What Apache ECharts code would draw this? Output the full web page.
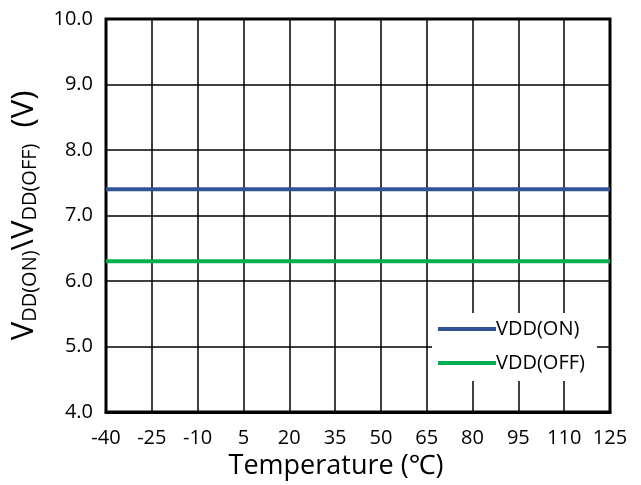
<!DOCTYPE html>
<html>
<head>
<meta charset="utf-8">
<script src="https://cdn.jsdelivr.net/npm/echarts@6/dist/echarts.min.js"></script>
<style>
  html, body { margin: 0; padding: 0; background: #fff; }
  #container { width: 641px; height: 485px; }
</style>
</head>
<body>
<div id="container"></div>
<script>
// 温度 (℃)
var temps = ['-40', '-25', '-10', '5', '20', '35', '50', '65', '80', '95', '110', '125'];
var vddOn = [7.4, 7.4, 7.4, 7.4, 7.4, 7.4, 7.4, 7.4, 7.4, 7.4, 7.4, 7.4];
var vddOff = [6.3, 6.3, 6.3, 6.3, 6.3, 6.3, 6.3, 6.3, 6.3, 6.3, 6.3, 6.3];

var font = '"Open Sans", "Noto Sans", sans-serif';

var myChart = echarts.init(document.getElementById('container'));
myChart.setOption({
    animation: false,
    textStyle: { fontFamily: font },
    grid: {
        left: 106, right: 31, top: 19, bottom: 73,
        outerBoundsMode: 'none',
        show: true, borderColor: '#000', borderWidth: 3, backgroundColor: 'transparent'
    },
    legend: {
        left: 432, top: 313,
        orient: 'vertical',
        backgroundColor: '#fff',
        padding: [6, 12, 8, 6],
        itemWidth: 58, itemHeight: 4, itemGap: 14,
        icon: 'rect',
        textStyle: { fontSize: 20, color: '#000', fontFamily: font, padding: [0, 0, 0, -5] },
        data: ['VDD(ON)', 'VDD(OFF)']
    },
    xAxis: {
        type: 'category',
        boundaryGap: false,
        data: temps,
        name: 'Temperature (℃)',
        nameLocation: 'middle',
        nameGap: 36,
        nameTextStyle: { fontSize: 27, color: '#000', fontFamily: font, padding: [0, 44, 0, 0] },
        axisLine: { lineStyle: { color: '#000', width: 3 } },
        axisTick: { show: false },
        axisLabel: { fontSize: 20, color: '#000', margin: 16, fontFamily: font },
        splitLine: { show: true, lineStyle: { color: '#000', width: 1.5 } }
    },
    yAxis: {
        type: 'value',
        min: 4, max: 10, interval: 1,
        name: '{m|V}{s|DD(ON)}{m|\\V}{s|DD(OFF)}{m|  (V)}',
        nameLocation: 'middle',
        nameGap: 66,
        nameTextStyle: {
            color: '#000',
            rich: {
                m: { fontSize: 31, color: '#000', fontFamily: font, verticalAlign: 'bottom', lineHeight: 38 },
                s: { fontSize: 20, color: '#000', fontFamily: font, verticalAlign: 'bottom', lineHeight: 38, padding: [12, 0, 0, 0] }
            }
        },
        axisLine: { lineStyle: { color: '#000', width: 3 } },
        axisTick: { show: false },
        axisLabel: {
            fontSize: 20, color: '#000', margin: 13, fontFamily: font,
            formatter: function (v) { return v.toFixed(1); }
        },
        splitLine: { show: true, lineStyle: { color: '#000', width: 1.5 } }
    },
    series: [
        {
            name: 'VDD(ON)', type: 'line', data: vddOn,
            symbol: 'none', color: '#2F5597',
            lineStyle: { width: 4, color: '#2F5597' }
        },
        {
            name: 'VDD(OFF)', type: 'line', data: vddOff,
            symbol: 'none', color: '#00B050',
            lineStyle: { width: 4, color: '#00B050' }
        }
    ]
});
</script>
</body>
</html>
